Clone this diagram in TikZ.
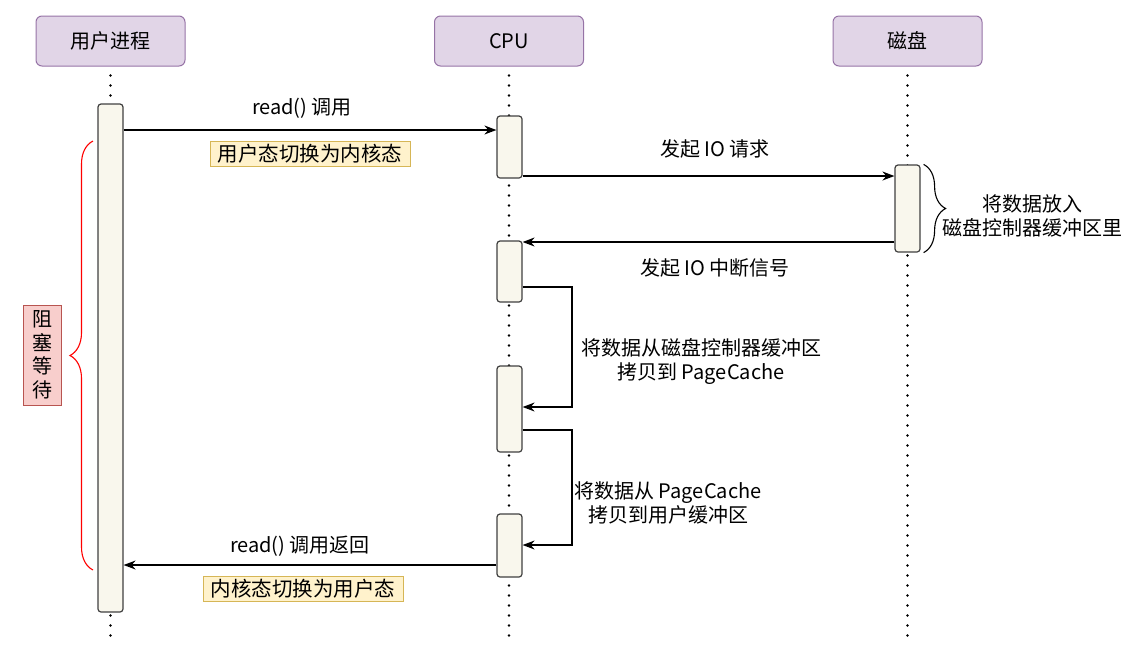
\documentclass[tikz,border=0pt]{standalone}
\usepackage{fontspec}
\setmainfont{Noto Sans CJK SC}
\usetikzlibrary{arrows.meta,decorations.pathreplacing}
\definecolor{hdrfill}{HTML}{E1D5E7}
\definecolor{hdrdraw}{HTML}{9673A6}
\definecolor{actfill}{HTML}{F9F7ED}
\definecolor{actdraw}{HTML}{404040}
\definecolor{notefill}{HTML}{FFF2CC}
\definecolor{notedraw}{HTML}{D6B656}
\definecolor{redfill}{HTML}{F8CECC}
\definecolor{reddraw}{HTML}{B85450}
\begin{document}
\begin{tikzpicture}[x=1pt,y=-1pt,
  header/.style={draw=hdrdraw,fill=hdrfill,rounded corners=6pt,minimum width=149pt,minimum height=50pt,line width=1pt,inner sep=0pt,font=\fontsize{20}{24}\selectfont},
  actbar/.style={draw=actdraw,fill=actfill,rounded corners=3pt,minimum width=25pt,line width=1.2pt,inner sep=0pt},
  lifeline/.style={line width=2.8pt,line cap=round,dash pattern=on 0pt off 10pt},
  msg/.style={line width=1.3pt,-{Stealth[length=12pt,width=9pt]}},
  lbl/.style={font=\fontsize{20}{24}\selectfont,align=center,inner sep=0pt},
  note/.style={draw=notedraw,fill=notefill,line width=1pt,minimum width=200pt,minimum height=25pt,inner sep=0pt,font=\fontsize{20.5}{22}\selectfont},
  bracestyle/.style={line width=1.1pt,decorate},
]
\useasboundingbox (0,0) rectangle (1137,649);

% headers
\node[header] (hu) at (110.5,41) {用户进程};
\node[header] (hc) at (509,41) {CPU};
\node[header] (hd) at (907.5,41) {磁盘};

% lifelines
\draw[lifeline] ([yshift=-9pt]hu.south) -- (hu.south |- 0,645);
\draw[lifeline] ([yshift=-9pt]hc.south) -- (hc.south |- 0,645);
\draw[lifeline] ([yshift=-9pt]hd.south) -- (hd.south |- 0,645);

% activation bars
\node[actbar,minimum height=508pt] (ua) at (110.5,358) {};
\node[actbar,minimum height=62pt] (c1) at (509.5,147) {};
\node[actbar,minimum height=61pt] (c2) at (509.5,271.5) {};
\node[actbar,minimum height=86pt] (c3) at (509.5,409) {};
\node[actbar,minimum height=63pt] (c4) at (509.5,545.5) {};
\node[actbar,minimum height=87pt] (d1) at (907.5,208.5) {};

% messages
\draw[msg] (ua.east |- 0,130) -- (c1.west |- 0,130);
\node[lbl] (l1) at (302,108) {read() 调用};
\node[note] (n1) at (310,153.5) {用户态切换为内核态};

\draw[msg] (c1.east |- 0,176) -- (d1.west |- 0,176);
\node[lbl] (l2) at (715,149) {发起 IO 请求};

\draw[msg] (d1.west |- 0,242) -- (c2.east |- 0,242);
\node[lbl] (l3) at (715,268) {发起 IO 中断信号};

\coordinate (s1a) at (572,287);
\coordinate (s1b) at (572,407);
\draw[msg] (c2.east |- s1a) -- (s1a) -- (s1b) -- (c3.east |- s1b);
\node[lbl] (l4) at (701,361.5) {将数据从磁盘控制器缓冲区\\拷贝到 PageCache};

\coordinate (s2a) at (572,430);
\coordinate (s2b) at (572,545);
\draw[msg] (c3.east |- s2a) -- (s2a) -- (s2b) -- (c4.east |- s2b);
\node[lbl] (l5) at (668,503) {将数据从 PageCache\\拷贝到用户缓冲区};

\draw[msg] (c4.west |- 0,565) -- (ua.east |- 0,565);
\node[lbl] (l6) at (300,546) {read() 调用返回};
\node[note] (n2) at (303,589) {内核态切换为用户态};

% disk brace
\draw[bracestyle,decoration={brace,amplitude=22pt}] ([xshift=3pt]d1.north east) -- ([xshift=3pt]d1.south east);
\node[lbl] (l7) at (1032,216) {将数据放入\\磁盘控制器缓冲区里};

% blocking brace
\draw[bracestyle,red,decoration={brace,amplitude=23pt}] (93,570) -- (93,141);
\node[draw=reddraw,fill=redfill,line width=1pt,minimum width=38pt,minimum height=100pt,inner sep=0pt,align=center,font=\fontsize{20}{23.5}\selectfont] (wait) at (42,355) {阻\\塞\\等\\待};
\end{tikzpicture}
\end{document}
